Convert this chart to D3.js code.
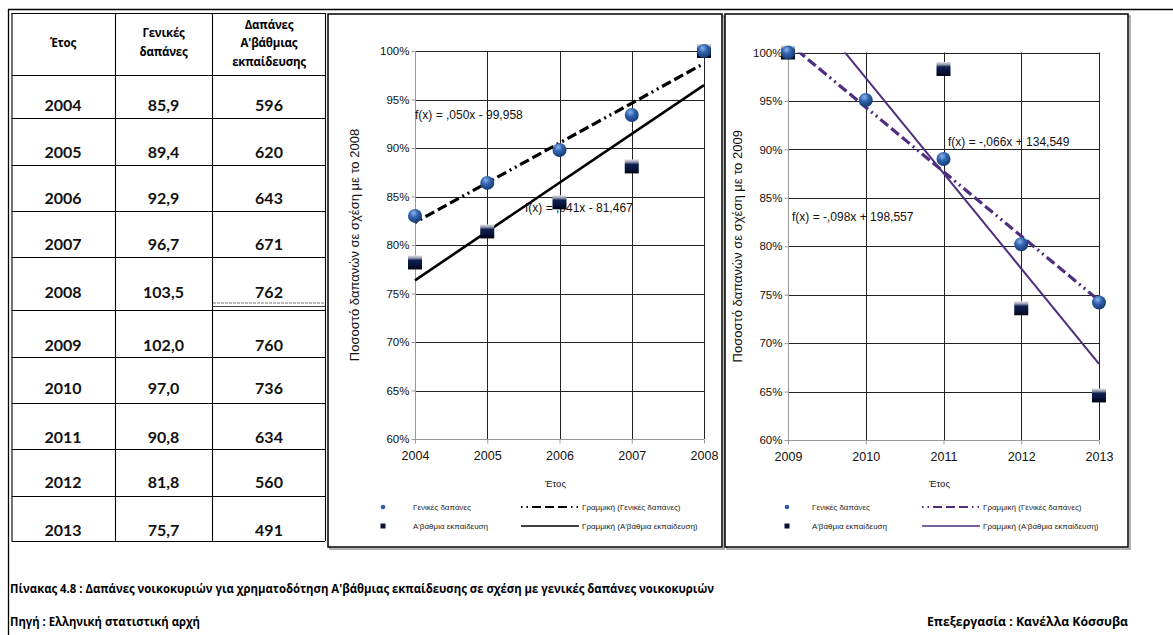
<!DOCTYPE html>
<html><head><meta charset="utf-8">
<script src="https://cdn.jsdelivr.net/npm/d3@7"></script>
<style>body{margin:0;background:#fff}svg{display:block}</style>
</head><body>
<svg id="c" width="1173" height="635"></svg>
<script>
// ---------- DATA ----------
const tableHeaders = [["Έτος"], ["Γενικές", "δαπάνες"], ["Δαπάνες", "Α'βάθμιας", "εκπαίδευσης"]];
const tableYears = ["2004","2005","2006","2007","2008","2009","2010","2011","2012","2013"];
const generalSpend = ["85,9","89,4","92,9","96,7","103,5","102,0","97,0","90,8","81,8","75,7"];
const primarySpend = ["596","620","643","671","762","760","736","634","560","491"];

const years1 = [2004, 2005, 2006, 2007, 2008];
const general1 = [83.0, 86.4, 89.8, 93.4, 100.0];
const primary1 = [78.2, 81.4, 84.4, 88.1, 100.0];

const years2 = [2009, 2010, 2011, 2012, 2013];
const general2 = [100.0, 95.1, 89.0, 80.2, 74.2];
const primary2 = [100.0, 101.2, 98.3, 73.6, 64.6];

const yTicks = [60, 65, 70, 75, 80, 85, 90, 95, 100];
const eqLabels1 = ["f(x) = ,041x - 81,467", "f(x) = ,050x - 99,958"];
const eqLabels2 = ["f(x) = -,066x + 134,549", "f(x) = -,098x + 198,557"];
const yTitles = ["Ποσοστό δαπανών σε σχέση με το 2008", "Ποσοστό δαπανών σε σχέση με το 2009"];
const xTitle = "Έτος";
const legendNames = ["Γενικές δαπάνες", "Α'βάθμια εκπαίδευση", "Γραμμική (Γενικές δαπάνες)", "Γραμμική (Α'βάθμια εκπαίδευση)"];
const captions = ["Πίνακας 4.8 : Δαπάνες νοικοκυριών για χρηματοδότηση  Α'βάθμιας εκπαίδευσης σε σχέση με γενικές δαπάνες νοικοκυριών",
  "Πηγή : Ελληνική στατιστική αρχή", "Επεξεργασία : Κανέλλα Κόσσυβα"];

// ---------- DRAW ----------
const svg = d3.select("#c");
const defs = svg.append("defs");
const rg = defs.append("radialGradient").attr("id","gCirc").attr("cx","40%").attr("cy","30%").attr("r","70%");
rg.append("stop").attr("offset","0%").attr("stop-color","#8db3ea");
rg.append("stop").attr("offset","45%").attr("stop-color","#2f63ae");
rg.append("stop").attr("offset","100%").attr("stop-color","#173a74");
const lg = defs.append("linearGradient").attr("id","gSq").attr("x1",0).attr("y1",0).attr("x2",0).attr("y2",1);
lg.append("stop").attr("offset","0%").attr("stop-color","#e4e4ea");
lg.append("stop").attr("offset","18%").attr("stop-color","#9aa0b4");
lg.append("stop").attr("offset","35%").attr("stop-color","#0f2050");
lg.append("stop").attr("offset","70%").attr("stop-color","#07143a");
lg.append("stop").attr("offset","100%").attr("stop-color","#000310");

// outer frame lines
svg.append("line").attr("x1",8).attr("x2",1173).attr("y1",9.5).attr("y2",9.5).attr("stroke","#000").attr("stroke-width",1.3);
svg.append("line").attr("x1",8.5).attr("x2",8.5).attr("y1",9).attr("y2",635).attr("stroke","#000").attr("stroke-width",1.3);

// ---------- TABLE ----------
const GF = "'Open Sans', 'Noto Sans', sans-serif";
const tbl = svg.append("g");
const colX = [11.5, 115, 212, 325];
const rowY = [13, 75, 118, 165, 211, 257, 310, 357, 403, 449, 496, 541];
const textOff = [7, 7, 7, 7, 12, 6, 9, 6, 8, 5];
rowY.forEach(y => tbl.append("line").attr("x1",colX[0]).attr("x2",colX[3]).attr("y1",y+0.5).attr("y2",y+0.5).attr("stroke","#000").attr("stroke-width",1.1));
colX.forEach(x => tbl.append("line").attr("x1",x+0.5).attr("x2",x+0.5).attr("y1",rowY[0]).attr("y2",rowY[rowY.length-1]).attr("stroke","#000").attr("stroke-width",1.1));
// faint artifact under 762
tbl.append("line").attr("x1",213).attr("x2",325).attr("y1",303).attr("y2",303).attr("stroke","#777").attr("stroke-dasharray","3,1");
tbl.append("line").attr("x1",213).attr("x2",325).attr("y1",306.5).attr("y2",306.5).attr("stroke","#444");
const colC = [63, 163.5, 269];
const hdrY = [[47], [37, 56], [29, 47, 66]];
tableHeaders.forEach((lines, ci) => lines.forEach((t, li) => {
  tbl.append("text").attr("x", colC[ci]).attr("y", hdrY[ci][li]).attr("text-anchor","middle")
    .attr("font-family",GF).attr("font-weight","bold").attr("font-size","11.5px").attr("letter-spacing","-0.2px").text(t);
}));
[tableYears, generalSpend, primarySpend].forEach((col, ci) => col.forEach((t, ri) => {
  tbl.append("text").attr("x", colC[ci]).attr("y", rowY[ri+2] - textOff[ri]).attr("text-anchor","middle")
    .attr("font-family","Lato, sans-serif").attr("font-weight","bold").attr("font-size","16px").attr("fill","#111").text(t);
}));

// ---------- CHARTS ----------
function linreg(xs, ys) {
  const mx = d3.mean(xs), my = d3.mean(ys);
  let sxy = 0, sxx = 0;
  xs.forEach((x, i) => { sxy += (x - mx) * (ys[i] - my); sxx += (x - mx) * (x - mx); });
  const s = sxy / sxx;
  return { s, b: my - s * mx };
}

function drawChart(cfg, idx) {
  const g = svg.append("g");
  const F = "'Liberation Sans', Arial, sans-serif";
  g.append("rect").attr("x",cfg.frame[0]+2).attr("y",cfg.frame[1]+2).attr("width",cfg.frame[2]).attr("height",cfg.frame[3]).attr("fill","none").attr("stroke","#999").attr("stroke-width",1.5);
  g.append("rect").attr("x",cfg.frame[0]).attr("y",cfg.frame[1]).attr("width",cfg.frame[2]).attr("height",cfg.frame[3]).attr("fill","#fff").attr("stroke","#000").attr("stroke-width",1.5);

  const x = d3.scaleLinear().domain(d3.extent(cfg.years)).range([cfg.L, cfg.R]);
  const y = d3.scaleLinear().domain([60, 100]).range([cfg.B, cfg.T]);

  g.append("g").selectAll("line").data(yTicks).join("line")
    .attr("x1", cfg.L).attr("x2", cfg.R).attr("y1", d => Math.round(y(d))+0.5).attr("y2", d => Math.round(y(d))+0.5)
    .attr("stroke", d => d === 60 ? "#999" : "#222").attr("stroke-width",1);
  g.append("g").selectAll("line").data(cfg.years).join("line")
    .attr("y1", cfg.T).attr("y2", cfg.B).attr("x1", d => Math.round(x(d))+0.5).attr("x2", d => Math.round(x(d))+0.5)
    .attr("stroke", (d,i) => i === 0 ? "#999" : "#222").attr("stroke-width",1);

  const ax = g.append("g").attr("transform",`translate(0,${Math.round(cfg.B)+0.5})`)
    .call(d3.axisBottom(x).tickValues(cfg.years).tickFormat(d3.format("d")).tickSize(4).tickSizeOuter(0));
  ax.select(".domain").remove();
  ax.selectAll("line").attr("stroke","#999");
  ax.selectAll("text").attr("font-family",F).attr("font-size","12.5px").attr("fill","#111").attr("dy","1.05em");
  const ay = g.append("g").attr("transform",`translate(${Math.round(cfg.L)+0.5},0)`)
    .call(d3.axisLeft(y).tickValues(yTicks).tickFormat(d => d + "%").tickSize(4).tickSizeOuter(0));
  ay.select(".domain").remove();
  ay.selectAll("line").attr("stroke","#999");
  ay.selectAll("text").attr("font-family",F).attr("font-size","11.5px").attr("fill","#111").attr("x",-6);

  g.append("text").attr("transform",`translate(${cfg.ytX},${(cfg.T+cfg.B)/2}) rotate(-90)`).attr("text-anchor","middle")
    .attr("font-family",F).attr("font-size","13px").attr("fill","#111").text(yTitles[idx]);
  g.append("text").attr("x",(cfg.L+cfg.R)/2 - 4).attr("y",487).attr("text-anchor","middle")
    .attr("font-family",F).attr("font-size","9.5px").attr("fill","#111").text(xTitle);

  cfg.eqPos.forEach((p, i) => g.append("text").attr("x",p[0]).attr("y",p[1]).attr("font-family",F).attr("font-size","12px").attr("fill","#111").text(cfg.eq[i]));

  const clipId = "clip" + idx;
  defs.append("clipPath").attr("id",clipId).append("rect").attr("x",cfg.L-2).attr("y",cfg.T).attr("width",cfg.R-cfg.L+4).attr("height",cfg.B-cfg.T);
  const x0 = cfg.years[0], x1 = cfg.years[cfg.years.length-1];
  const rG = linreg(cfg.years, cfg.gen), rP = linreg(cfg.years, cfg.prim);
  const lt = g.append("g").attr("clip-path",`url(#${clipId})`);
  lt.append("line").attr("x1",x(x0)).attr("x2",x(x1)).attr("y1",y(rP.s*x0+rP.b)).attr("y2",y(rP.s*x1+rP.b))
    .attr("stroke",cfg.color).attr("stroke-width",cfg.solidW);
  lt.append("line").attr("x1",x(x0)).attr("x2",x(x1)).attr("y1",y(rG.s*x0+rG.b)).attr("y2",y(rG.s*x1+rG.b))
    .attr("stroke",cfg.color).attr("stroke-width",3.2).attr("stroke-dasharray","2,4,2,4,10,4,10,4,10,4");

  const inR = v => v >= 60 && v <= 100;
  g.append("g").selectAll("rect").data(cfg.years.map((yr,i)=>[yr,cfg.prim[i]]).filter(d=>inR(d[1]))).join("rect")
    .attr("x", d => x(d[0]) - 7).attr("y", d => y(d[1]) - 7).attr("width",14).attr("height",14).attr("fill","url(#gSq)");
  g.append("g").selectAll("circle").data(cfg.years.map((yr,i)=>[yr,cfg.gen[i]]).filter(d=>inR(d[1]))).join("circle")
    .attr("cx", d => x(d[0])).attr("cy", d => y(d[1])).attr("r",7).attr("fill","url(#gCirc)");

  const lgY = [507, 526];
  g.append("circle").attr("cx",cfg.lg[0]).attr("cy",lgY[0]).attr("r",2.3).attr("fill","#2f5ea8");
  g.append("rect").attr("x",cfg.lg[0]-2.5).attr("y",lgY[1]-2.5).attr("width",5).attr("height",5).attr("fill","#0a1436");
  g.append("line").attr("x1",cfg.lg[2]).attr("x2",cfg.lg[3]).attr("y1",lgY[0]).attr("y2",lgY[0]).attr("stroke",cfg.color).attr("stroke-width",2.2).attr("stroke-dasharray","1.5,4,1.5,4,9,4,9,4,9,4");
  g.append("line").attr("x1",cfg.lg[2]).attr("x2",cfg.lg[3]).attr("y1",lgY[1]).attr("y2",lgY[1]).attr("stroke",cfg.color).attr("stroke-width",1.6);
  [[cfg.lg[1], lgY[0], 0], [cfg.lg[1], lgY[1], 1], [cfg.lg[3]+3, lgY[0], 2], [cfg.lg[3]+3, lgY[1], 3]].forEach(p =>
    g.append("text").attr("x",p[0]).attr("y",p[1]+3).attr("font-family",F).attr("font-size","8px").attr("fill","#222").text(legendNames[p[2]]));
}

drawChart({years: years1, gen: general1, prim: primary1, frame:[328,14,394,533], L:415, R:704, T:51, B:439,
  ytX: 359, color:"#000", solidW:2.6, eq: eqLabels1, eqPos: [[525,212],[415,119]], lg:[383,413,521,579]}, 0);
drawChart({years: years2, gen: general2, prim: primary2, frame:[725,14,403,533], L:788, R:1099, T:52.5, B:440,
  ytX: 742, color:"#4f2d80", solidW:2.0, eq: eqLabels2, eqPos: [[948,146],[792,221]], lg:[787,812,922,980]}, 1);

// ---------- CAPTIONS ----------
svg.append("text").attr("x",10).attr("y",593).attr("font-family",GF).attr("font-weight","bold").attr("font-size","12px")
  .attr("textLength",704).attr("lengthAdjust","spacingAndGlyphs").text(captions[0]);
svg.append("text").attr("x",10).attr("y",626).attr("font-family",GF).attr("font-weight","bold").attr("font-size","12px")
  .attr("textLength",190).attr("lengthAdjust","spacingAndGlyphs").text(captions[1]);
svg.append("text").attr("x",927).attr("y",626).attr("font-family",GF).attr("font-weight","bold").attr("font-size","12px")
  .attr("textLength",201).attr("lengthAdjust","spacingAndGlyphs").text(captions[2]);
</script>
</body></html>
